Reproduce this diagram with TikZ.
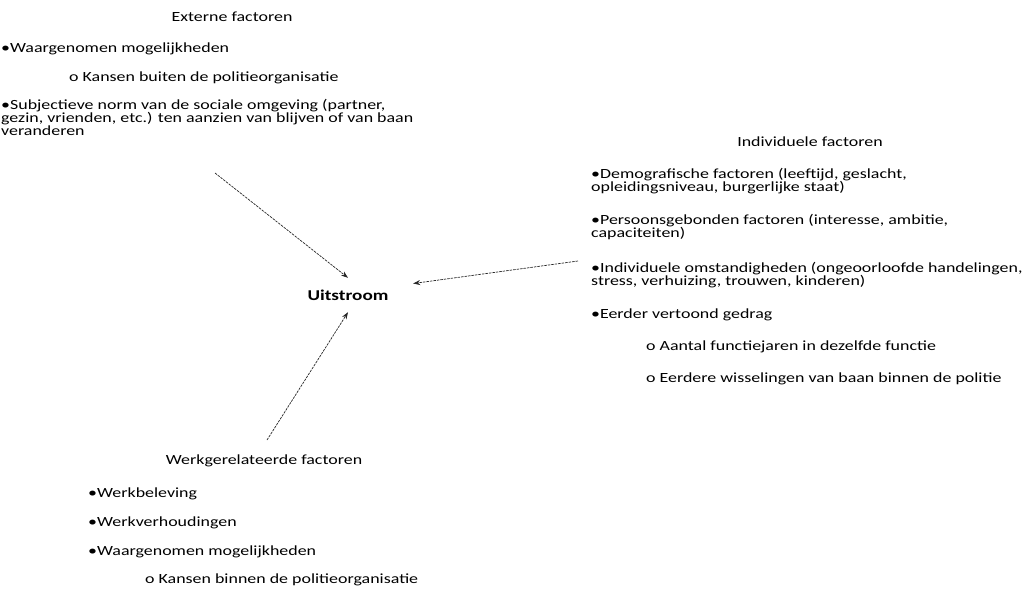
\documentclass[tikz,border=0pt]{standalone}
\usepackage{fontspec}
\setmainfont{Carlito}[FakeStretch=1.28]
\usetikzlibrary{arrows.meta}

\tikzset{
  txt/.style={inner sep=0pt, font=\fontsize{14}{13}\selectfont},
  lst/.style={txt, anchor=north west, align=left},
  pijl/.style={draw=black!85, line width=0.7pt, dash pattern=on 2.5pt off 1pt,
    -{Stealth[length=7pt,width=5pt]}}
}

\begin{document}
\begin{tikzpicture}[x=1pt, y=-1pt]
  \useasboundingbox (0,0) rectangle (1023,592);

  % centrale knoop
  \node[txt, font=\fontsize{15}{15}\selectfont\bfseries, minimum width=130pt, minimum height=34pt] (uit) at (348,295) {Uitstroom};

  % externe factoren
  \node[txt] (ext) at (232,17) {Externe factoren};
  \node[lst] (extlist) at (1,43) {%
    •Waargenomen mogelijkheden\\[16pt]
    \hspace*{68pt}o Kansen buiten de politieorganisatie\\[15pt]
    •Subjectieve norm van de sociale omgeving (partner,\\
    gezin, vrienden, etc.) ten aanzien van blijven of van baan\\
    veranderen};

  % individuele factoren
  \node[txt] (ind) at (810,142) {Individuele factoren};
  \node[lst] (indlist) at (591,168) {%
    •Demografische factoren (leeftijd, geslacht,\\
    opleidingsniveau, burgerlijke staat)\\[20pt]
    •Persoonsgebonden factoren (interesse, ambitie,\\
    capaciteiten)\\[22pt]
    •Individuele omstandigheden (ongeoorloofde handelingen,\\
    stress, verhuizing, trouwen, kinderen)\\[20pt]
    •Eerder vertoond gedrag\\[19pt]
    \hspace*{55pt}o Aantal functiejaren in dezelfde functie\\[19pt]
    \hspace*{55pt}o Eerdere wisselingen van baan binnen de politie};

  % werkgerelateerde factoren
  \node[txt] (werk) at (264,461) {Werkgerelateerde factoren};
  \node[lst] (werklist) at (88,488) {%
    •Werkbeleving\\[16pt]
    •Werkverhoudingen\\[16pt]
    •Waargenomen mogelijkheden\\[15pt]
    \hspace*{57pt}o Kansen binnen de politieorganisatie};

  % pijlen
  \coordinate (extpunt) at (215,173);
  \coordinate (indpunt) at (578,261);
  \coordinate (werkpunt) at (267,440);
  \draw[pijl] (extpunt) -- (uit.north);
  \draw[pijl] (indpunt) -- (uit.10);
  \draw[pijl] (werkpunt) -- (uit.south);
\end{tikzpicture}
\end{document}
